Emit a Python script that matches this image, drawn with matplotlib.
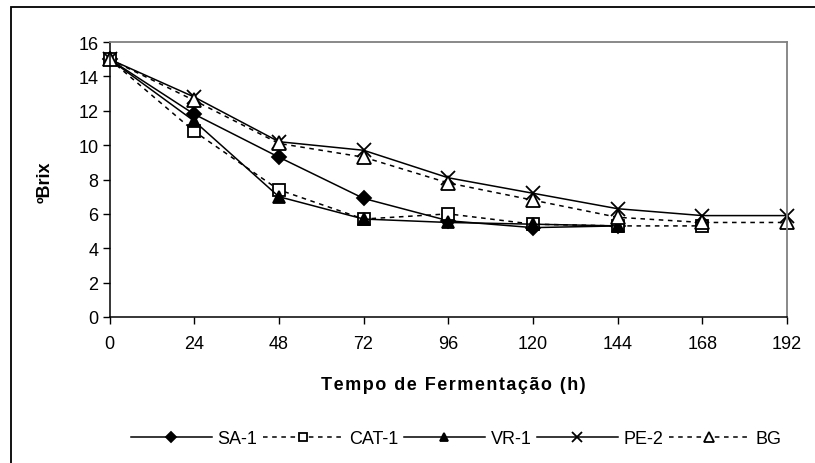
import matplotlib
matplotlib.use("Agg")
import matplotlib.pyplot as plt
from matplotlib.patches import Rectangle

plt.rcParams['font.family'] = ['Liberation Sans', 'DejaVu Sans']

hours = [0, 24, 48, 72, 96, 120, 144, 168, 192]
sa1 = [15.0, 11.8, 9.3, 6.9, 5.6, 5.2, 5.3]
cat1 = [15.0, 10.8, 7.4, 5.7, 6.0, 5.4, 5.3, 5.3]
vr1 = [15.0, 11.4, 7.0, 5.7, 5.5, 5.4, 5.3]
pe2 = [15.0, 12.8, 10.2, 9.7, 8.1, 7.2, 6.3, 5.9, 5.9]
bg = [15.0, 12.6, 10.1, 9.3, 7.8, 6.8, 5.8, 5.5, 5.5]
x_ticks = [0, 24, 48, 72, 96, 120, 144, 168, 192]
y_ticks = [0, 2, 4, 6, 8, 10, 12, 14, 16]

fig = plt.figure(figsize=(8.15, 4.64), dpi=100)
fig.patches.append(Rectangle((10.5/815, -0.1), 1.2, 1 - 7.5/464 + 0.1,
                             transform=fig.transFigure, fill=False,
                             edgecolor='black', linewidth=1.3))
ax = fig.add_axes([109.5/815, 1 - 318/464, (787 - 109.5)/815, (318 - 43)/464])

lw = 1.1
dash = (0, (3, 3))
series = [
    (sa1, 'SA-1', '-', 'D', 'black', 7.5),
    (cat1, 'CAT-1', dash, 's', 'white', 8.5),
    (vr1, 'VR-1', '-', '^', 'black', 9),
    (pe2, 'PE-2', '-', 'x', 'black', 9.5),
    (bg, 'BG', dash, '^', 'white', 9.5),
]
for vals, name, ls, mk, fc, ms in series:
    ax.plot(hours[:len(vals)], vals, linestyle=ls, color='black', linewidth=lw,
            marker=mk, markersize=ms, markerfacecolor=fc, markeredgecolor='black',
            markeredgewidth=1.3, label=name, clip_on=False)

fs = 13
ax.set_xlim(0, 192)
ax.set_ylim(0, 16)
ax.set_xticks(x_ticks)
ax.set_yticks(y_ticks)
ax.tick_params(axis='both', direction='out', length=5, width=1, labelsize=fs,
               colors='black')
ax.tick_params(axis='x', pad=8)
ax.tick_params(axis='y', pad=3)
for s in ['top', 'right']:
    ax.spines[s].set_color('#808080')
    ax.spines[s].set_linewidth(1.3)
for s in ['left', 'bottom']:
    ax.spines[s].set_color('black')
    ax.spines[s].set_linewidth(1.1)

fig.text(45/815, 1 - 182/464, 'ºBrix', rotation=90, ha='center', va='center',
         fontsize=fs, fontweight='bold')
fig.text(453/815, 1 - 386/464, '\u200a'.join('Tempo de Fermentação (h)'),
         ha='center', va='center', fontsize=fs, fontweight='bold')

leg = fig.legend(loc='center', bbox_to_anchor=(456/815, 1 - 440/464), ncol=5,
                 frameon=False, fontsize=fs, handlelength=4.5, handletextpad=0.3,
                 columnspacing=0.3, markerscale=0.7)

fig.savefig('out.png', dpi=100)
